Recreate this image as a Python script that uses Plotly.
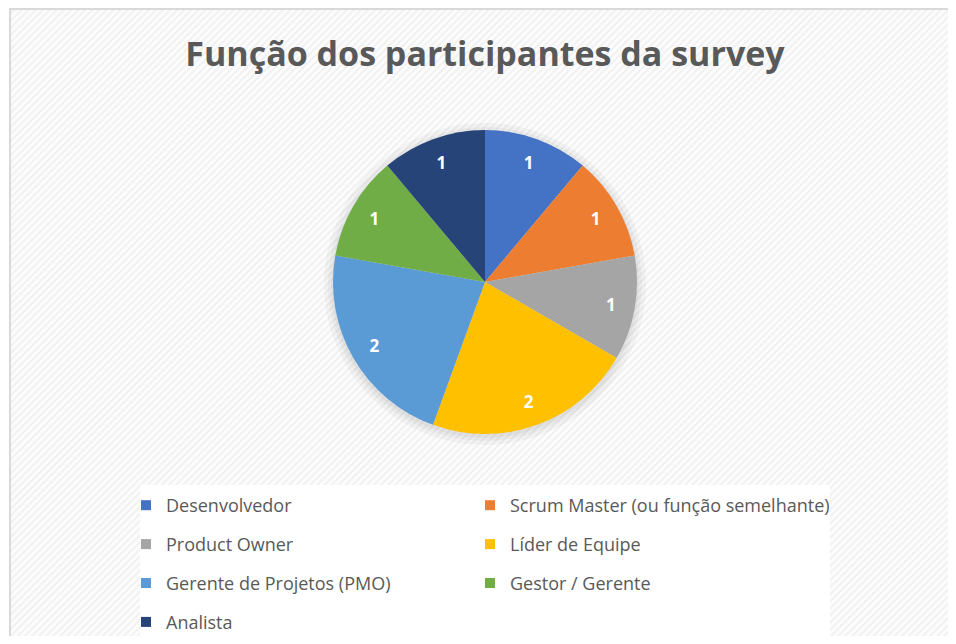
import base64

import plotly.graph_objects as go

# ── Data ────────────────────────────────────────────────────────────────────
roles = [
    "Desenvolvedor",
    "Scrum Master (ou função semelhante)",
    "Product Owner",
    "Líder de Equipe",
    "Gerente de Projetos (PMO)",
    "Gestor / Gerente",
    "Analista",
]
counts = [1, 1, 1, 2, 2, 1, 1]
colors = ["#4472C4", "#ED7D31", "#A5A5A5", "#FFC000", "#5B9BD5", "#70AD47", "#264478"]

# legend columns (Excel fills rows left→right, two per row)
left_col = [0, 2, 4, 6]
right_col = [1, 3, 5]

# the page body has an 8px margin, so the figure is a bit smaller than the window
OFS = 8
W, H = 956 - 2 * OFS, 644 - 2 * OFS
FONT = "Open Sans"


def px(x):
    """Window x (pixels) -> paper fraction."""
    return (x - OFS) / W


def py(y):
    """Window y (pixels, from top) -> paper fraction."""
    return 1 - (y - OFS) / H


# ── Hatched chart-area background (Excel style) ─────────────────────────────
svg = f"""<svg xmlns='http://www.w3.org/2000/svg' width='{W}' height='{H}'>
<defs><pattern id='p' width='5' height='5' patternUnits='userSpaceOnUse' patternTransform='rotate(45)'>
<rect width='5' height='5' fill='#fcfcfc'/><rect width='2' height='5' fill='#f1f1f1'/></pattern></defs>
<rect width='{W}' height='{H}' fill='white'/>
<rect x='{10 - OFS}' y='{8 - OFS + 1}' width='{W + 10}' height='{H + 10}' fill='url(#p)' stroke='#d9d9d9' stroke-width='2'/>
</svg>"""
bg_uri = "data:image/svg+xml;base64," + base64.b64encode(svg.encode()).decode()

fig = go.Figure()

cx, cy, r = 485, 282, 152
pie_domain = dict(x=[px(cx - r), px(cx + r)], y=[py(cy + r), py(cy - r)])

# soft shadow around the pie
shadow = [
    dict(
        type="circle",
        xref="paper",
        yref="paper",
        x0=px(cx - r - k),
        x1=px(cx + r + k),
        y0=py(cy + r + k + 2),
        y1=py(cy - r - k + 2),
        fillcolor="rgba(0,0,0,0.035)",
        line=dict(width=0),
        layer="below",
    )
    for k in (2, 5, 9)
]

# the coloured pie
fig.add_trace(
    go.Pie(
        labels=roles,
        values=counts,
        sort=False,
        direction="clockwise",
        rotation=0,
        marker=dict(colors=colors, line=dict(width=0)),
        textinfo="none",
        domain=pie_domain,
        showlegend=False,
        hoverinfo="label+value",
    )
)

# transparent ring on top that carries the value labels (pushes them outward like Excel)
fig.add_trace(
    go.Pie(
        labels=roles,
        values=counts,
        sort=False,
        direction="clockwise",
        rotation=0,
        hole=0.68,
        marker=dict(colors=["rgba(0,0,0,0)"] * len(roles), line=dict(width=0)),
        textinfo="value",
        textposition="inside",
        insidetextorientation="horizontal",
        textfont=dict(family=FONT, size=17, color="white", weight="bold"),
        domain=pie_domain,
        showlegend=False,
        hoverinfo="skip",
    )
)

# legend entries: one marker-only trace per role, split into two column legends
for col, legend_id in ((left_col, "legend"), (right_col, "legend2")):
    for i in col:
        fig.add_trace(
            go.Scatter(
                x=[None],
                y=[None],
                mode="markers",
                name=roles[i],
                marker=dict(symbol="square", size=10, color=colors[i]),
                legend=legend_id,
                legendgroup=roles[i],
                showlegend=True,
            )
        )

legend_style = dict(
    orientation="v",
    yanchor="top",
    xanchor="left",
    y=py(487),
    bgcolor="rgba(0,0,0,0)",
    font=dict(family=FONT, size=18, color="#595959"),
    tracegroupgap=12.5,
    itemwidth=30,
)

fig.update_layout(
    width=W,
    height=H,
    margin=dict(l=0, r=0, t=0, b=0, autoexpand=False),
    paper_bgcolor="white",
    plot_bgcolor="rgba(0,0,0,0)",
    xaxis=dict(visible=False),
    yaxis=dict(visible=False),
    title=dict(
        text="<b>Função dos participantes da survey</b>",
        x=px(485),
        xanchor="center",
        y=py(54),
        yanchor="middle",
        font=dict(family=FONT, size=34, color="#595959"),
    ),
    legend=dict(legend_style, x=px(126)),
    legend2=dict(legend_style, x=px(470)),
    images=[
        dict(
            source=bg_uri,
            xref="paper",
            yref="paper",
            x=0,
            y=1,
            sizex=1,
            sizey=1,
            sizing="stretch",
            layer="below",
        )
    ],
    shapes=[
        # white box behind the legend
        dict(
            type="rect",
            xref="paper",
            yref="paper",
            x0=px(140),
            x1=px(830),
            y0=0,
            y1=py(485),
            fillcolor="white",
            line=dict(width=0),
            layer="below",
        ),
        *shadow,
    ],
)

fig.write_html("out.html")
